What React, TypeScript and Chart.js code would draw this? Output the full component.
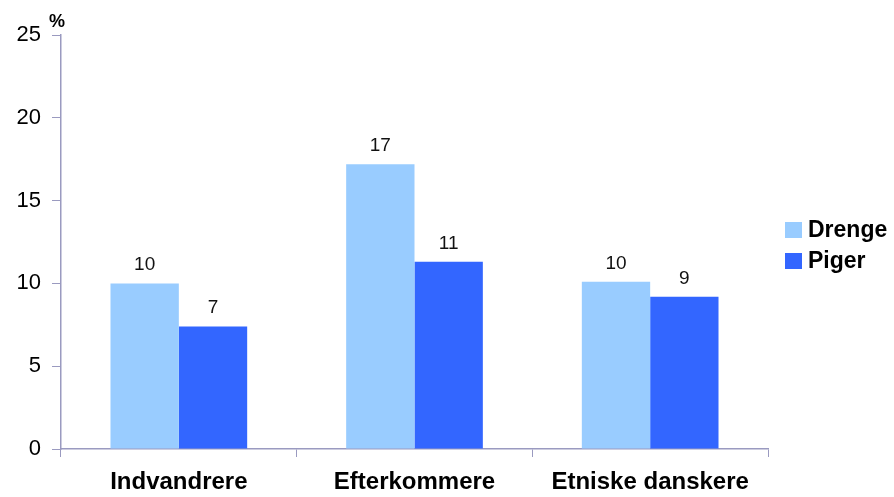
import React, { useEffect, useRef } from "react";
import { Chart, registerables } from "chart.js";

Chart.register(...registerables);

const categories = ["Indvandrere", "Efterkommere", "Etniske danskere"];
const drenge = [10.0, 17.2, 10.1];
const piger = [7.4, 11.3, 9.2];
const seriesNames = ["Drenge", "Piger"];
const colors = ["#99CCFF", "#3366FF"];
const yTicks = [0, 5, 10, 15, 20, 25];
const axisColor = "#9a9ac0";
const fontFamily = "'Liberation Sans', Arial, sans-serif";

export default function App() {
  const ref = useRef<HTMLCanvasElement | null>(null);

  useEffect(() => {
    if (!ref.current) return;
    const extras = {
      id: "extras",
      afterDatasetsDraw(chart: any) {
        const ctx = chart.ctx;
        ctx.save();
        // value labels
        ctx.font = `19px ${fontFamily}`;
        ctx.fillStyle = "#111";
        ctx.textAlign = "center";
        ctx.textBaseline = "alphabetic";
        chart.data.datasets.forEach((ds: any, i: number) => {
          const meta = chart.getDatasetMeta(i);
          meta.data.forEach((bar: any, j: number) => {
            ctx.fillText(String(Math.round(ds.data[j])), bar.x, bar.y - 13);
          });
        });
        // percent label
        ctx.font = `bold 18px ${fontFamily}`;
        ctx.textAlign = "center";
        ctx.textBaseline = "middle";
        ctx.fillStyle = "#000";
        ctx.fillText("%", 57, 22);
        // legend
        ctx.font = `bold 23px ${fontFamily}`;
        ctx.textAlign = "left";
        chart.data.datasets.forEach((ds: any, i: number) => {
          const y = 230 + i * 31;
          ctx.fillStyle = ds.backgroundColor;
          ctx.fillRect(785, y - 8, 17, 16);
          ctx.fillStyle = "#000";
          ctx.fillText(ds.label, 808, y + 1);
        });
        ctx.restore();
      },
    };

    const chart = new Chart(ref.current, {
      type: "bar",
      data: {
        labels: categories,
        datasets: [
          { label: seriesNames[0], data: drenge, backgroundColor: colors[0], categoryPercentage: 0.58, barPercentage: 1.0 },
          { label: seriesNames[1], data: piger, backgroundColor: colors[1], categoryPercentage: 0.58, barPercentage: 1.0 },
        ],
      },
      options: {
        animation: false,
        responsive: false,
        maintainAspectRatio: false,
        layout: { padding: { top: 35, right: 126, left: 0, bottom: 0 } },
        plugins: { legend: { display: false }, tooltip: { enabled: false } },
        scales: {
          x: {
            afterFit(scale: any) {
              scale.height = 48;
            },
            grid: {
              display: true,
              drawOnChartArea: false,
              drawTicks: true,
              tickLength: 8,
              color: axisColor,
              offset: true,
            },
            border: { display: true, color: axisColor, width: 1.5 },
            ticks: {
              color: "#000",
              font: { family: fontFamily, size: 24, weight: "bold" },
              padding: 11,
              maxRotation: 0,
            },
          },
          y: {
            min: 0,
            max: 25,
            afterFit(scale: any) {
              scale.width = 61;
            },
            afterBuildTicks(scale: any) {
              scale.ticks = yTicks.map((v) => ({ value: v }));
            },
            grid: {
              display: true,
              drawOnChartArea: false,
              drawTicks: true,
              tickLength: 9,
              color: axisColor,
            },
            border: { display: true, color: axisColor, width: 1.5 },
            ticks: {
              color: "#000",
              font: { family: fontFamily, size: 22 },
              padding: 11,
            },
          },
        },
      },
      plugins: [extras],
    } as any);
    return () => chart.destroy();
  }, []);

  return (
    <div style={{ position: "fixed", left: 0, top: 0, width: 894, height: 497, background: "#fff" }}>
      <canvas ref={ref} width={894} height={497} style={{ width: 894, height: 497, display: "block" }} />
    </div>
  );
}
